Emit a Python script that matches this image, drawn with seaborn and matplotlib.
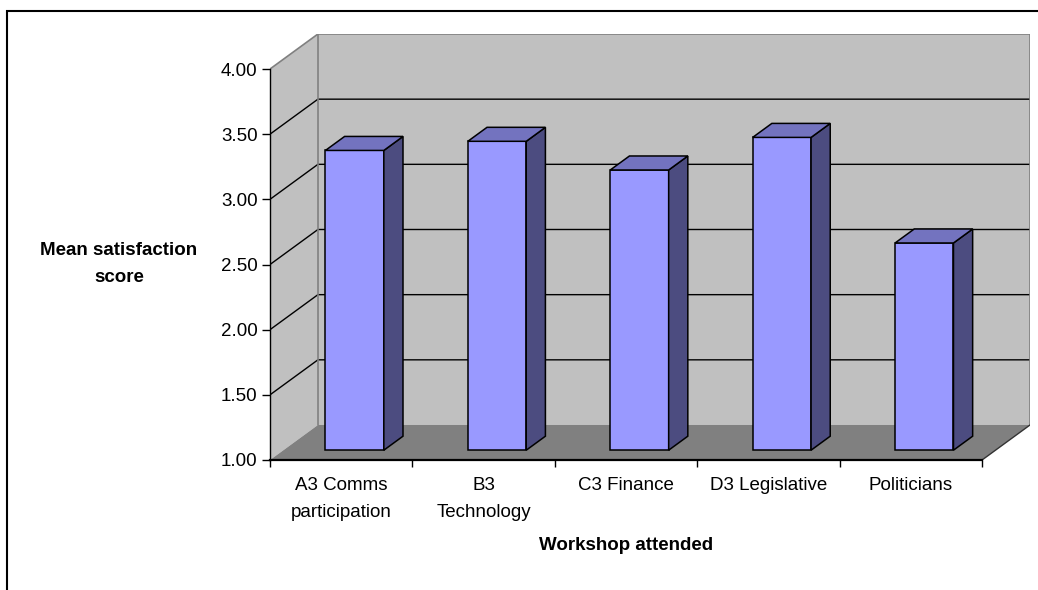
#!/usr/bin/env python3
"""Mean satisfaction score by workshop, drawn in the style of an Excel 3-D column chart."""

import matplotlib
matplotlib.use("Agg")
import matplotlib.pyplot as plt
from matplotlib.patches import Polygon, Rectangle
import seaborn as sns

WORKSHOPS = ["A3 Comms\nparticipation", "B3\nTechnology", "C3 Finance", "D3 Legislative", "Politicians"]
MEAN_SCORES = [3.30, 3.37, 3.15, 3.40, 2.59]
Y_TICKS = [1.0, 1.5, 2.0, 2.5, 3.0, 3.5, 4.0]

FRONT = "#9999FF"
TOP = "#7373BF"
SIDE = "#4C4C80"
WALL = "#C0C0C0"
FLOOR = "#808080"

# depth of the 3-D box, in data units (x: categories, y: score)
DX = 0.3366
DY = 0.2686
BAR_FRONT = 0.28   # where the bar's front face sits inside the depth
BAR_DEPTH = 0.40   # how deep each bar is

W, H = 1038, 590


def main():
    sns.set_style("white")
    plt.rcParams["font.family"] = ["Liberation Sans", "DejaVu Sans"]
    plt.rcParams.update({"text.color": "black", "xtick.color": "black",
                         "ytick.color": "black", "axes.labelcolor": "black"})
    fs = 13.5

    fig = plt.figure(figsize=(W / 100, H / 100), dpi=100)
    ax = fig.add_axes([270 / W, (H - 460) / H, 760 / W, 426 / H])
    ax.patch.set_visible(False)

    n = len(WORKSHOPS)
    ymin, ymax = Y_TICKS[0], Y_TICKS[-1]
    x0, x1 = -0.5, n - 0.5

    # walls and floor
    ax.add_patch(Polygon([(x0, ymin), (x0 + DX, ymin + DY), (x0 + DX, ymax + DY), (x0, ymax)],
                         closed=True, fc=WALL, ec="none", zorder=0.5))
    ax.add_patch(Polygon([(x0 + DX, ymin + DY), (x1 + DX, ymin + DY), (x1 + DX, ymax + DY), (x0 + DX, ymax + DY)],
                         closed=True, fc=WALL, ec="none", zorder=0.5))
    ax.add_patch(Polygon([(x0, ymin), (x1, ymin), (x1 + DX, ymin + DY), (x0 + DX, ymin + DY)],
                         closed=True, fc=FLOOR, ec="none", zorder=0.6))

    # gridlines: side wall diagonals + back wall
    for v in Y_TICKS[1:-1]:
        ax.plot([x0, x0 + DX, x1 + DX], [v, v + DY, v + DY], color="black", lw=1.0, zorder=0.8)
    # wall outlines (grey)
    ax.plot([x0, x0 + DX, x1 + DX, x1 + DX], [ymax, ymax + DY, ymax + DY, ymin + DY],
            color="#808080", lw=1.2, zorder=0.9)
    ax.plot([x0 + DX, x0 + DX], [ymin + DY, ymax + DY], color="#808080", lw=1.2, zorder=0.9)
    ax.plot([x1, x1 + DX], [ymin, ymin + DY], color="#333333", lw=1.0, zorder=0.9)

    sns.barplot(x=WORKSHOPS, y=MEAN_SCORES, color=FRONT, saturation=1, width=0.41,
                edgecolor="black", linewidth=1.1, ax=ax, zorder=2)

    # push the front faces back into the box and add top / side faces
    for p in list(ax.patches):
        if not isinstance(p, Rectangle):
            continue
        top = p.get_height()
        bx0 = p.get_x() + BAR_FRONT * DX
        bx1 = bx0 + p.get_width()
        by0 = ymin + BAR_FRONT * DY
        by1 = top + BAR_FRONT * DY
        p.set_x(bx0)
        p.set_y(by0)
        p.set_height(by1 - by0)
        ddx, ddy = BAR_DEPTH * DX, BAR_DEPTH * DY
        ax.add_patch(Polygon([(bx1, by0), (bx1 + ddx, by0 + ddy), (bx1 + ddx, by1 + ddy), (bx1, by1)],
                             closed=True, fc=SIDE, ec="black", lw=1.1, zorder=2))
        ax.add_patch(Polygon([(bx0, by1), (bx1, by1), (bx1 + ddx, by1 + ddy), (bx0 + ddx, by1 + ddy)],
                             closed=True, fc=TOP, ec="black", lw=1.1, zorder=2))

    ax.set_xlim(x0, x1 + DX)
    ax.set_ylim(ymin, ymax + DY)

    for side in ["top", "right"]:
        ax.spines[side].set_visible(False)
    ax.spines["left"].set_bounds(ymin, ymax)
    ax.spines["left"].set_color("black")
    ax.spines["left"].set_linewidth(1.0)
    ax.spines["left"].set_zorder(3)
    ax.spines["bottom"].set_bounds(x0, x1)
    ax.spines["bottom"].set_color("black")
    ax.spines["bottom"].set_linewidth(1.6)
    ax.spines["bottom"].set_zorder(3)

    ax.set_yticks(Y_TICKS)
    ax.set_yticklabels([f"{v:.2f}" for v in Y_TICKS])
    ax.tick_params(axis="y", left=True, length=6, width=1, color="black", labelcolor="black",
                   direction="out", pad=3, labelsize=fs)
    ax.set_xticks(range(n))
    ax.set_xticklabels(WORKSHOPS, linespacing=1.8)
    ax.set_xticks([i - 0.5 for i in range(n + 1)], minor=True)
    ax.tick_params(axis="x", which="major", bottom=True, length=0, pad=12, labelsize=fs,
                   labelcolor="black")
    ax.tick_params(axis="x", which="minor", bottom=True, length=5, width=1,
                   color="black", direction="out")
    ax.set_xlabel("")
    ax.set_ylabel("")

    fig.text(119 / W, 1 - 264 / H, "Mean satisfaction\nscore", ha="center", va="center",
             fontsize=fs, fontweight="bold", linespacing=1.75, color="black")
    fig.text(626 / W, 1 - 546 / H, "Workshop attended", ha="center", va="center",
             fontsize=fs, fontweight="bold", color="black")

    # chart area border
    fig.add_artist(Rectangle((7 / W, -0.1), 1.2, 1.1 - 11 / H, transform=fig.transFigure,
                             fill=False, ec="black", lw=1.5, clip_on=False))

    fig.savefig("out.png", dpi=100)
    plt.close(fig)


if __name__ == "__main__":
    main()
